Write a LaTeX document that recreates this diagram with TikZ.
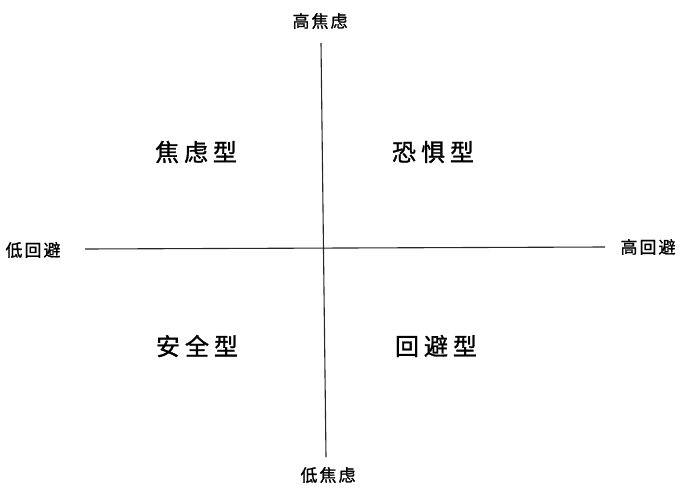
\documentclass[tikz,border=0pt]{standalone}
\usepackage{fontspec}
\newfontfamily\cjk{Noto Sans CJK SC}[FakeBold=1.2]
\tikzset{
  axis/.style={line width=1.1pt, draw=black!85},
  axlabel/.style={font=\cjk\fontsize{17}{19}\selectfont, inner sep=0pt},
  quad/.style={font=\cjk\fontsize{24}{28}\selectfont, inner sep=0pt}
}
\begin{document}
\begin{tikzpicture}[x=1pt,y=-1pt]
\useasboundingbox (0,0) rectangle (690,500);
\coordinate (vt) at (321,43);
\coordinate (vb) at (326,457);
\coordinate (hl) at (85,249);
\coordinate (hr) at (605,247);
\draw[axis] (vt) -- (vb);
\draw[axis] (hl) -- (hr);
\node[axlabel] (top) at (320,21) {高\kern2pt 焦\kern2pt 虑};
\node[axlabel] (bot) at (328,475) {低\kern2pt 焦\kern2pt 虑};
\node[axlabel] (left) at (33,250) {低\kern2pt 回\kern2pt 避};
\node[axlabel] (right) at (648,247) {高\kern2pt 回\kern2pt 避};
\node[quad] (q1) at (196,152) {焦\kern5pt 虑\kern5pt 型};
\node[quad] (q2) at (433,152) {恐\kern5pt 惧\kern5pt 型};
\node[quad] (q3) at (197,346) {安\kern5pt 全\kern5pt 型};
\node[quad] (q4) at (436,346) {回\kern5pt 避\kern5pt 型};
\end{tikzpicture}
\end{document}
